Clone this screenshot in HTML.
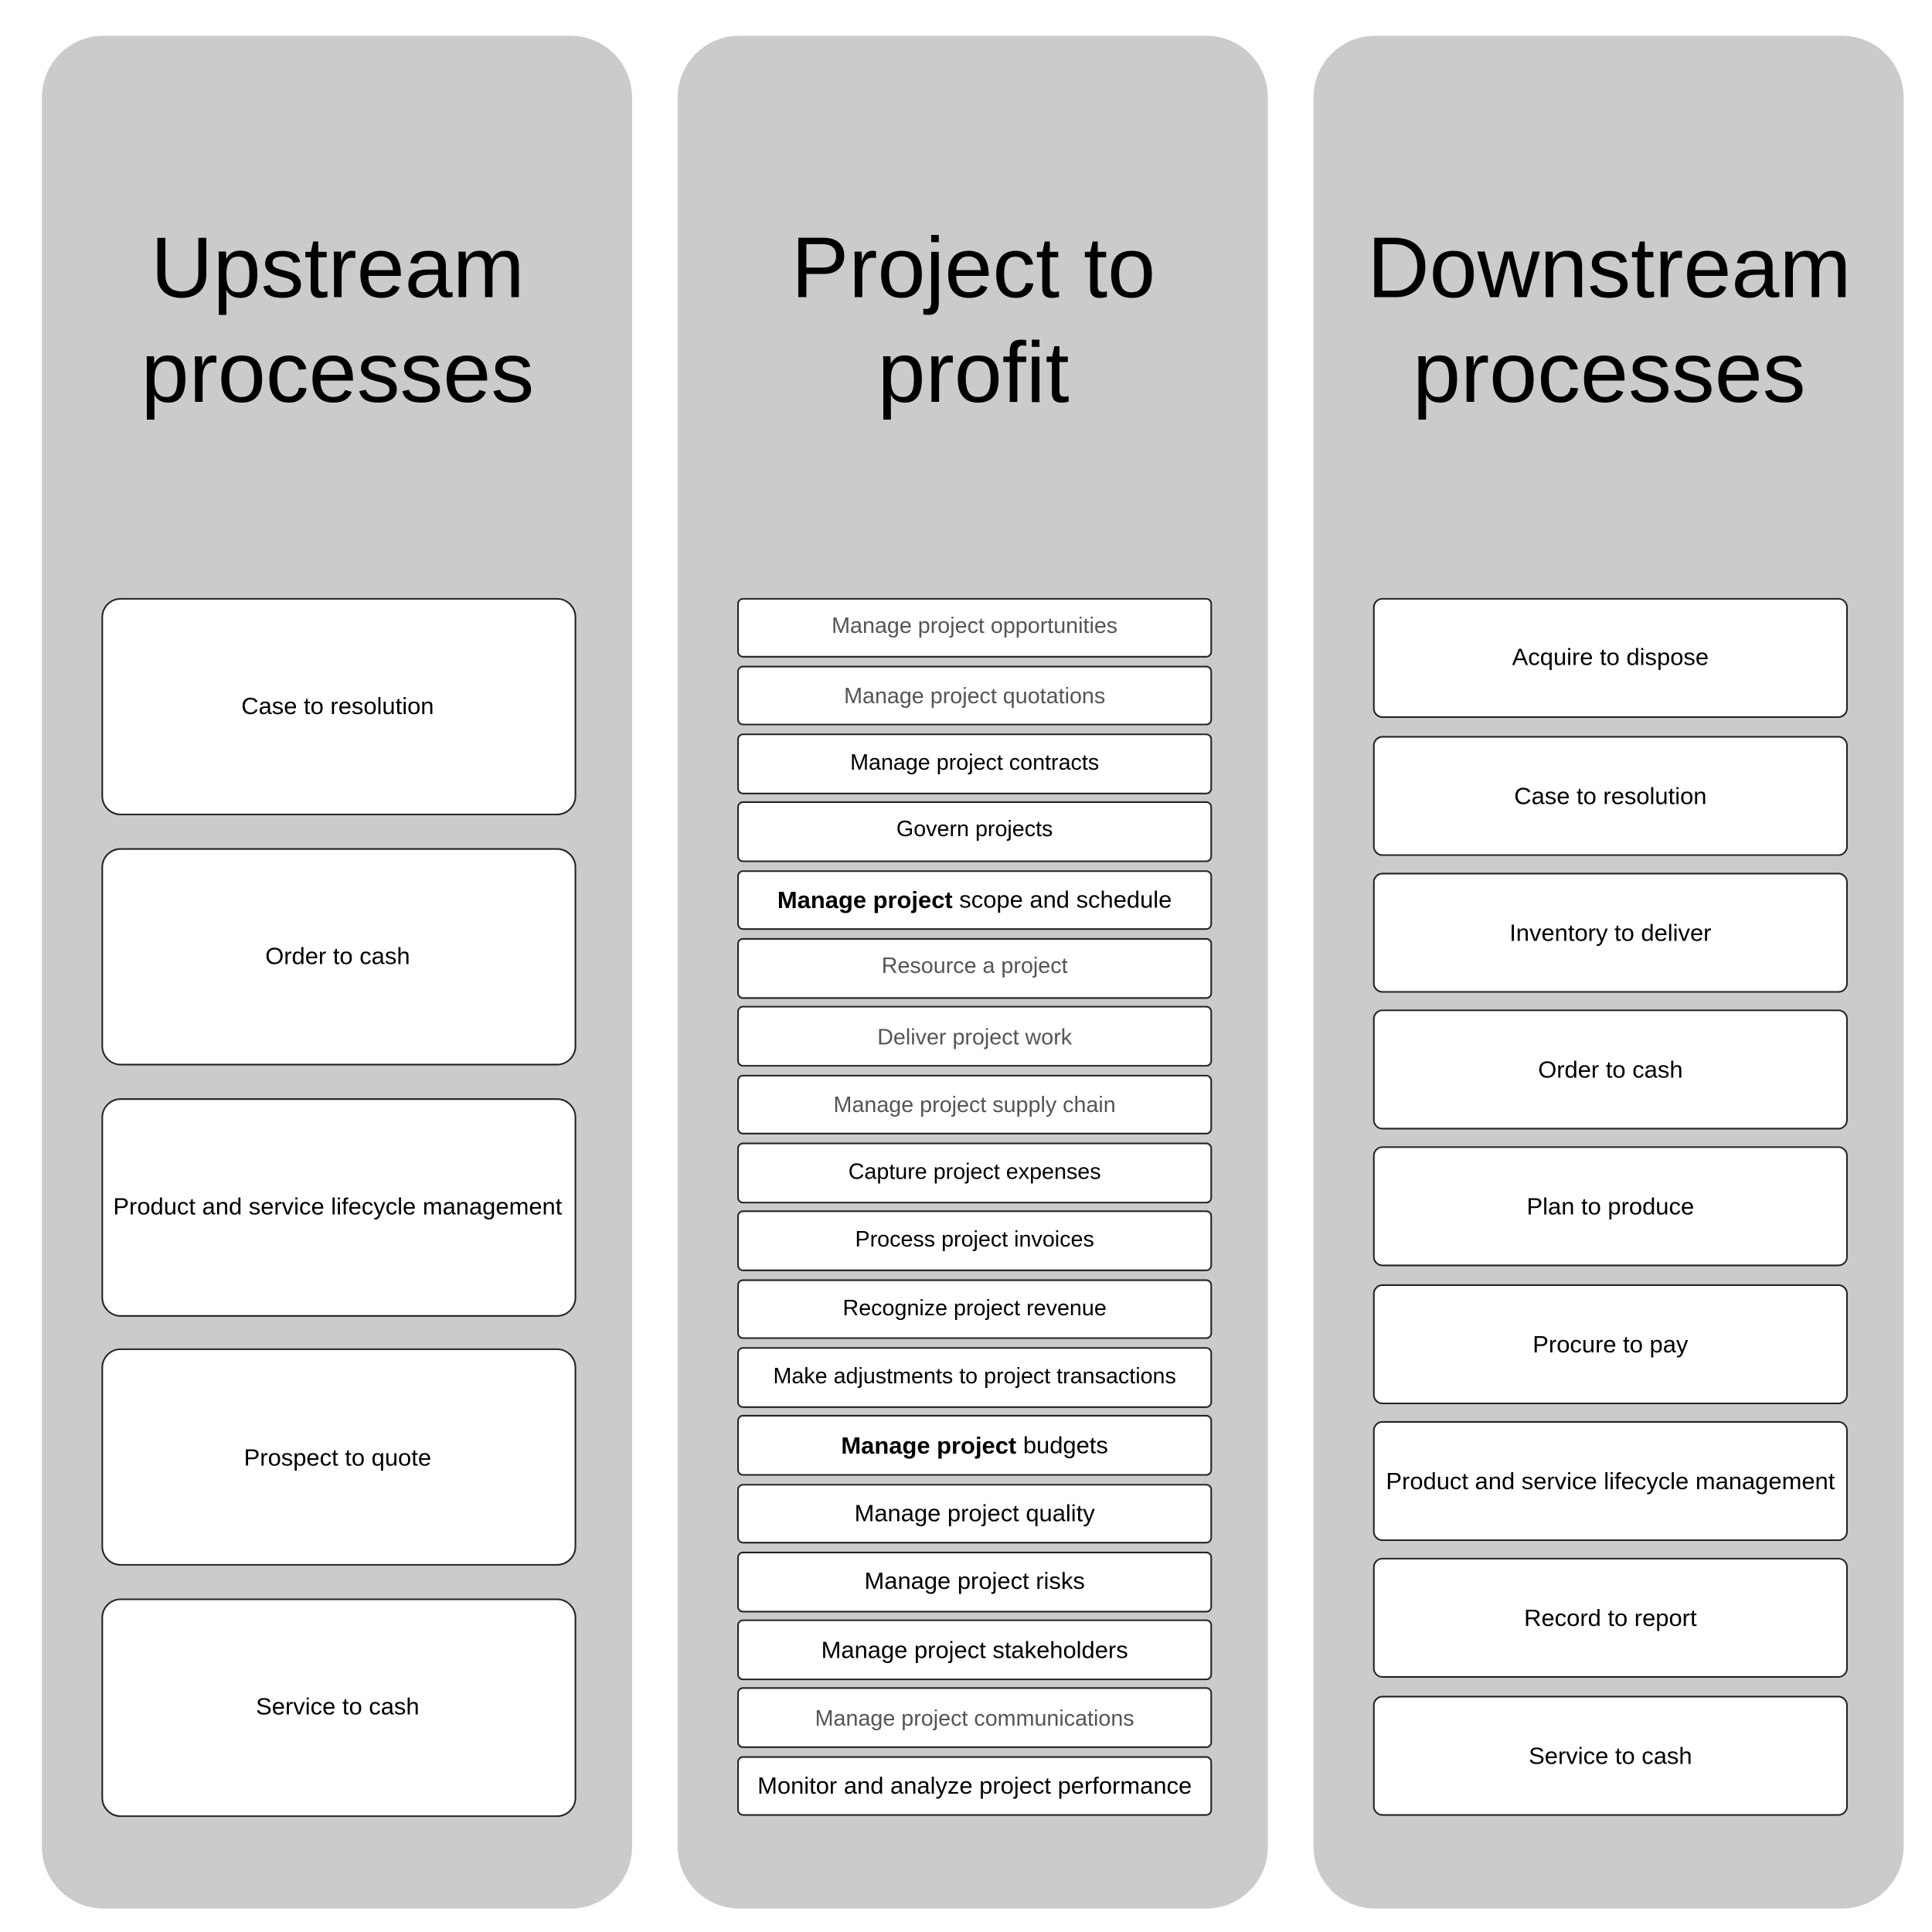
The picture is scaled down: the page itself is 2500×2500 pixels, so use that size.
<!DOCTYPE html>
<html><head><meta charset="utf-8"><style>
html,body{margin:0;padding:0;background:#fff;}
svg{display:block}
text{font-family:"Liberation Sans",sans-serif;text-anchor:middle;dominant-baseline:central}
</style></head><body>
<svg width="2500" height="2500" viewBox="0 0 1568 1568" xmlns="http://www.w3.org/2000/svg">
<rect width="1568" height="1568" fill="#fff"/>
<g fill="#cbcbcb">
<rect x="34" y="29" width="479" height="1520" rx="50"/>
<rect x="550" y="29" width="479" height="1520" rx="50"/>
<rect x="1066" y="29" width="479" height="1520" rx="50"/>
</g>
<g font-size="70" fill="#000">
<text x="274" y="217">Upstream</text><text x="274" y="302">processes</text>
<text x="790" y="217">Project to</text><text x="790" y="302">profit</text>
<text x="1306" y="217">Downstream</text><text x="1306" y="302">processes</text>
</g>
<g fill="#fff" stroke="#222" stroke-width="1.3">
<rect x="83" y="486" width="384" height="175" rx="15"/>
<rect x="83" y="689" width="384" height="175" rx="15"/>
<rect x="83" y="892" width="384" height="176" rx="15"/>
<rect x="83" y="1095" width="384" height="175" rx="15"/>
<rect x="83" y="1298" width="384" height="176" rx="15"/>
</g>
<g font-size="19.4" fill="#000">
<text x="274" y="573">Case to resolution</text>
<text x="274" y="776">Order to cash</text>
<text x="274" y="979">Product and service lifecycle management</text>
<text x="274" y="1183">Prospect to quote</text>
<text x="274" y="1385">Service to cash</text>
</g>
<g fill="#fff" stroke="#222" stroke-width="1.3">
<rect x="1115" y="486" width="384" height="96" rx="7"/>
<rect x="1115" y="598" width="384" height="96" rx="7"/>
<rect x="1115" y="709" width="384" height="96" rx="7"/>
<rect x="1115" y="820" width="384" height="96" rx="7"/>
<rect x="1115" y="931" width="384" height="96" rx="7"/>
<rect x="1115" y="1043" width="384" height="96" rx="7"/>
<rect x="1115" y="1154" width="384" height="96" rx="7"/>
<rect x="1115" y="1265" width="384" height="96" rx="7"/>
<rect x="1115" y="1377" width="384" height="96" rx="7"/>
</g>
<g font-size="19.4" fill="#000">
<text x="1307" y="533">Acquire to dispose</text>
<text x="1307" y="646">Case to resolution</text>
<text x="1307" y="757">Inventory to deliver</text>
<text x="1307" y="868">Order to cash</text>
<text x="1307" y="979">Plan to produce</text>
<text x="1307" y="1091">Procure to pay</text>
<text x="1307" y="1202">Product and service lifecycle management</text>
<text x="1307" y="1313">Record to report</text>
<text x="1307" y="1425">Service to cash</text>
</g>
<g fill="#fff" stroke="#222" stroke-width="1.3">
<rect x="599" y="486" width="384" height="47" rx="4"/>
<rect x="599" y="541" width="384" height="47" rx="4"/>
<rect x="599" y="596" width="384" height="48" rx="4"/>
<rect x="599" y="651" width="384" height="48" rx="4"/>
<rect x="599" y="707" width="384" height="47" rx="4"/>
<rect x="599" y="762" width="384" height="48" rx="4"/>
<rect x="599" y="817" width="384" height="48" rx="4"/>
<rect x="599" y="873" width="384" height="47" rx="4"/>
<rect x="599" y="928" width="384" height="48" rx="4"/>
<rect x="599" y="983" width="384" height="48" rx="4"/>
<rect x="599" y="1039" width="384" height="47" rx="4"/>
<rect x="599" y="1094" width="384" height="48" rx="4"/>
<rect x="599" y="1149" width="384" height="48" rx="4"/>
<rect x="599" y="1205" width="384" height="47" rx="4"/>
<rect x="599" y="1260" width="384" height="48" rx="4"/>
<rect x="599" y="1315" width="384" height="48" rx="4"/>
<rect x="599" y="1370" width="384" height="48" rx="4"/>
<rect x="599" y="1426" width="384" height="47" rx="4"/>
</g>
<g font-size="18">
<text x="791" y="508" fill="#555">Manage project opportunities</text>
<text x="791" y="565" fill="#555">Manage project quotations</text>
<text x="791" y="619" fill="#000">Manage project contracts</text>
<text x="791" y="673" fill="#000">Govern projects</text>
<text x="791" y="730" fill="#000" font-size="19.4"><tspan font-weight="bold">Manage project</tspan> scope and schedule</text>
<text x="791" y="784" fill="#555">Resource a project</text>
<text x="791" y="842" fill="#555">Deliver project work</text>
<text x="791" y="897" fill="#555">Manage project supply chain</text>
<text x="791" y="951" fill="#000">Capture project expenses</text>
<text x="791" y="1006" fill="#000">Process project invoices</text>
<text x="791" y="1062" fill="#000">Recognize project revenue</text>
<text x="791" y="1117" fill="#000">Make adjustments to project transactions</text>
<text x="791" y="1173" fill="#000" font-size="19.4"><tspan font-weight="bold">Manage project</tspan> budgets</text>
<text x="791" y="1228" fill="#000" font-size="19.4">Manage project quality</text>
<text x="791" y="1283" fill="#000" font-size="19.4">Manage project risks</text>
<text x="791" y="1339" fill="#000" font-size="19.4">Manage project stakeholders</text>
<text x="791" y="1395" fill="#555">Manage project communications</text>
<text x="791" y="1449" fill="#000" font-size="19.4">Monitor and analyze project performance</text>
</g>
</svg>
</body></html>
